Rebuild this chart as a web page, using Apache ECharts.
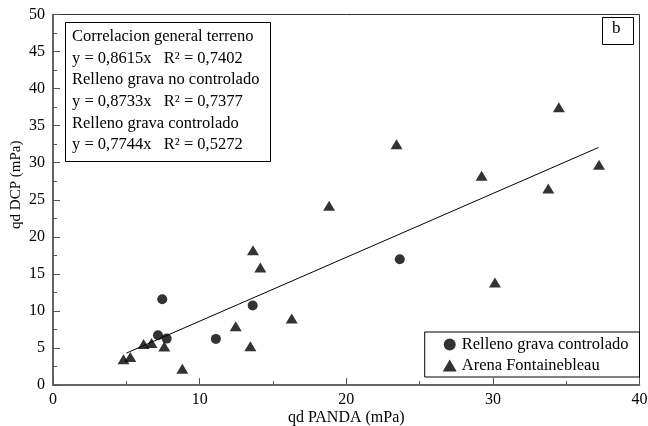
<!DOCTYPE html>
<html><head><meta charset="utf-8">
<script src="https://cdn.jsdelivr.net/npm/echarts@6/dist/echarts.min.js"></script>
<style>html,body{margin:0;padding:0;background:#fff}#c{width:648px;height:426px}</style>
</head><body><div id="c"></div>
<script>
const circleX = [7.45, 13.62, 7.16, 7.75, 11.11, 23.65];
const circleY = [11.58, 10.72, 6.72, 6.26, 6.22, 16.98];
const triX = [18.83, 13.64, 14.14, 16.28, 12.46, 13.46, 6.18, 6.72, 7.59, 4.81, 5.27, 8.82, 23.43, 34.5, 29.23, 37.24, 33.78, 30.14];
const triY = [24.19, 18.2, 15.86, 8.96, 7.93, 5.22, 5.54, 5.68, 5.18, 3.47, 3.78, 2.2, 32.5, 37.5, 28.24, 29.73, 26.53, 13.83];
const lineX = [5.0, 37.2];
const lineY = [4.3, 32.05];
const annotLines = ['Correlacion general terreno','y = 0,8615x   R² = 0,7402','Relleno grava no controlado','y = 0,8733x   R² = 0,7377','Relleno grava controlado','y = 0,7744x   R² = 0,5272'];
const seriesNames = ['Relleno grava controlado','Arena Fontainebleau'];

const FONT = '"Liberation Serif", "Times New Roman", serif';
const zip = (a,b)=>a.map((v,i)=>[v,b[i]]);
const axisCol = '#555';
const chart = echarts.init(document.getElementById('c'));
chart.setOption({
  animation:false,
  grid:{left:53,right:8.5,top:14.5,bottom:41,containLabel:false,outerBoundsMode:'none'},
  xAxis:{type:'value',min:0,max:40,interval:10,
    name:'qd PANDA (mPa)',nameLocation:'middle',nameGap:25,nameMoveOverlap:false,
    nameTextStyle:{fontFamily:FONT,fontSize:16,color:'#000',verticalAlign:'top'},
    axisLine:{show:true,onZero:false,lineStyle:{color:axisCol,width:1.6}},
    axisTick:{show:true,inside:true,length:7,lineStyle:{color:axisCol}},
    minorTick:{show:true,splitNumber:2,length:4,lineStyle:{color:axisCol}},
    axisLabel:{fontFamily:FONT,fontSize:16,color:'#000',margin:7},
    splitLine:{show:false}},
  yAxis:{type:'value',min:0,max:50,interval:5,
    name:'qd DCP (mPa)',nameLocation:'middle',nameGap:29,nameRotate:90,nameMoveOverlap:false,
    nameTextStyle:{fontFamily:FONT,fontSize:15,color:'#000',padding:[0,0,0,30]},
    axisLine:{show:true,onZero:false,lineStyle:{color:axisCol,width:1.6}},
    axisTick:{show:true,inside:true,length:7,lineStyle:{color:axisCol}},
    minorTick:{show:true,splitNumber:2,length:4,lineStyle:{color:axisCol}},
    axisLabel:{fontFamily:FONT,fontSize:16,color:'#000',margin:8},
    splitLine:{show:false}},
  legend:{orient:'vertical',right:8.5,bottom:49,
    borderColor:'#000',borderWidth:1,padding:[4,11,3,18],itemGap:4,
    itemWidth:14,itemHeight:12,itemTextGap:13,
    textStyle:{fontFamily:FONT,fontSize:16.5,color:'#000'},
    data:[{name:seriesNames[0],icon:'circle'},{name:seriesNames[1],icon:'triangle'}]},
  graphic:[
    {type:'rect',shape:{x:53,y:14.5,width:586.5,height:370.5},style:{fill:'none',stroke:'#333',lineWidth:1},silent:true},
    {type:'rect',shape:{x:65.5,y:22.5,width:205,height:139},style:{fill:'#fff',stroke:'#000',lineWidth:1},z:10},
    {type:'text',left:72,top:26,z:11,style:{text:annotLines.join('\n'),fontFamily:FONT,fontSize:16.5,lineHeight:21.6,fill:'#000'}},
    {type:'rect',shape:{x:602.5,y:17.5,width:31,height:27},style:{fill:'#fff',stroke:'#000',lineWidth:1},z:10},
    {type:'text',left:612,top:20,z:11,style:{text:'b',fontFamily:FONT,fontSize:17,fill:'#000'}}
  ],
  series:[
    {name:'fit',type:'line',data:zip(lineX,lineY),symbol:'none',lineStyle:{color:'#000',width:1},z:1,silent:true},
    {name:seriesNames[0],type:'scatter',symbol:'circle',symbolSize:10,itemStyle:{color:'#000'},data:zip(circleX,circleY),z:3},
    {name:seriesNames[1],type:'scatter',symbol:'triangle',symbolSize:[12,10],itemStyle:{color:'#000'},data:zip(triX,triY),z:3}
  ]
});
</script></body></html>
